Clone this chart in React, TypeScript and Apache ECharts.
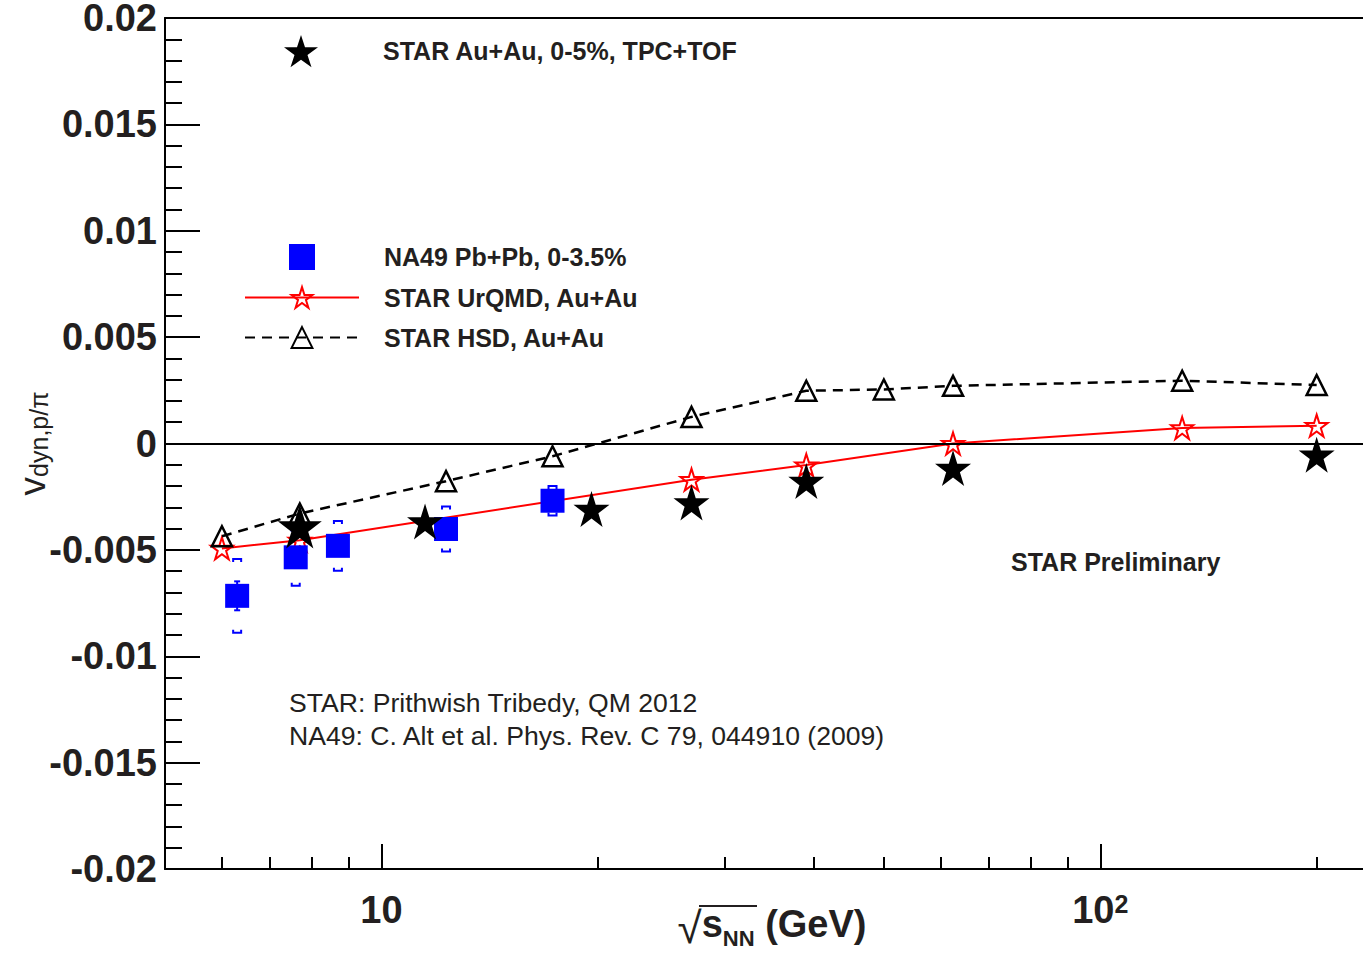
import React, { useEffect, useRef } from 'react';
import * as echarts from 'echarts';

// ---- data ----
const STAR_E = [7.7, 11.5, 19.6, 27, 39, 62.4, 200];
const STAR_V = [-0.0039, -0.00367, -0.00308, -0.00277, -0.00176, -0.00115, -0.00053];

const NA49_E = [6.3, 7.6, 8.7, 12.3, 17.3];
const NA49_V = [-0.00716, -0.00535, -0.00481, -0.00402, -0.00269];
const NA49_STAT = [0.00068, 0.0003, 0.0003, 0.0003, 0.0003];
const NA49_SYS = [0.00173, 0.00134, 0.00117, 0.00106, 0.00069];

const URQMD_E = [6.0, 7.7, 27, 39, 62.4, 130, 200];
const URQMD_V = [-0.00493, -0.00455, -0.0017, -0.00101, 0.0, 0.00073, 0.00084];

const HSD_E = [6.0, 7.7, 12.3, 17.3, 27, 39, 50, 62.4, 130, 200];
const HSD_V = [-0.00436, -0.00329, -0.00177, -0.0006, 0.00125, 0.00248, 0.00254, 0.00271, 0.00295, 0.00275];

const X_MAJOR = [10, 100];
const X_MINOR = [6, 7, 8, 9, 20, 30, 40, 50, 60, 70, 80, 90, 200];

const N_STAR = 'STAR Au+Au, 0-5%, TPC+TOF';
const N_NA49 = 'NA49 Pb+Pb, 0-3.5%';
const N_URQMD = 'STAR UrQMD, Au+Au';
const N_HSD = 'STAR HSD, Au+Au';

const FONT = '"Liberation Sans", Arial, Helvetica, sans-serif';
const TXT = '#231f20';
const STAR_PATH =
  'path://M95.11,0L117.56,69.1L190.22,69.1L131.44,111.8L153.89,180.9L95.11,138.2L36.33,180.9L58.78,111.8L0,69.1L72.66,69.1Z';
const SQUARE_PATH = 'path://M0,0L100,0L100,100L0,100Z';

const X_MIN = 5;
const X_MAX = 232;

export default function App() {
  const ref = useRef<HTMLDivElement>(null);

  useEffect(() => {
    if (!ref.current) return;
    const chart = echarts.init(ref.current, undefined, { renderer: 'svg' });

    const zip = (a: number[], b: number[]) => a.map((x, i) => [x, b[i]]);
    const errData = NA49_E.map((e, i) => [e, NA49_V[i], NA49_STAT[i], NA49_SYS[i]]);
    const legendText = { fontFamily: FONT, fontWeight: 'bold', fontSize: 25, color: TXT };

    const option: any = {
      animation: false,
      backgroundColor: '#fff',
      grid: { left: 165, right: 0, top: 18, bottom: 92, outerBoundsMode: 'none' },
      legend: [
        {
          data: [N_STAR],
          left: 279,
          top: 30,
          orient: 'vertical',
          itemWidth: 34,
          itemHeight: 34,
          symbolKeepAspect: true,
          selectedMode: false,
          textStyle: { ...legendText, padding: [0, 0, 0, 60] },
        },
        {
          data: [N_NA49, N_URQMD, N_HSD],
          left: 239,
          top: 239,
          orient: 'vertical',
          itemWidth: 114,
          itemHeight: 26,
          itemGap: 15,
          symbolKeepAspect: true,
          selectedMode: false,
          textStyle: { ...legendText, padding: [0, 0, 0, 20] },
        },
      ],
      xAxis: [
        {
          type: 'log',
          logBase: 10,
          min: X_MIN,
          max: X_MAX,
          position: 'bottom',
          axisLine: { show: true, onZero: false, lineStyle: { color: '#000', width: 2 } },
          axisTick: { show: true, inside: true, length: 12, customValues: X_MINOR, lineStyle: { color: '#000', width: 2 } },
          minorTick: { show: false },
          splitLine: { show: false },
          axisLabel: {
            show: true,
            customValues: X_MAJOR,
            margin: 22,
            formatter: (v: number) => (Math.round(v) === 100 ? '{b|10}{sup|2}' : '{b|10}'),
            rich: {
              b: { fontFamily: FONT, fontWeight: 'bold', fontSize: 38, color: TXT, lineHeight: 38, verticalAlign: 'bottom' },
              sup: { fontFamily: FONT, fontWeight: 'bold', fontSize: 25, color: TXT, lineHeight: 25, verticalAlign: 'top' },
            },
          },
          name: '{r|√}{s|s}{n|NN}{g| (GeV)}',
          nameLocation: 'middle',
          nameGap: 36,
          nameMoveOverlap: false,
          nameTextStyle: {
            rich: {
              r: { fontFamily: FONT, fontSize: 44, color: TXT, lineHeight: 44, verticalAlign: 'bottom', padding: [0, 0, 0, 16] },
              s: { fontFamily: FONT, fontWeight: 'bold', fontSize: 38, color: TXT, lineHeight: 38, verticalAlign: 'top' },
              n: { fontFamily: FONT, fontWeight: 'bold', fontSize: 22, color: TXT, lineHeight: 22, verticalAlign: 'bottom' },
              g: { fontFamily: FONT, fontWeight: 'bold', fontSize: 38, color: TXT, lineHeight: 38, verticalAlign: 'top' },
            },
          },
        },
        {
          type: 'log',
          logBase: 10,
          min: X_MIN,
          max: X_MAX,
          position: 'bottom',
          axisLine: { show: false, onZero: false },
          axisTick: { show: true, inside: true, length: 25, customValues: X_MAJOR, lineStyle: { color: '#000', width: 2 } },
          axisLabel: { show: false },
          splitLine: { show: false },
        },
        {
          type: 'value',
          min: 0,
          max: 1,
          position: 'top',
          axisLine: { show: true, onZero: false, lineStyle: { color: '#000', width: 2 } },
          axisTick: { show: false },
          axisLabel: { show: false },
          splitLine: { show: false },
        },
      ],
      yAxis: {
        type: 'value',
        min: -0.02,
        max: 0.02,
        interval: 0.005,
        axisLine: { show: true, onZero: false, lineStyle: { color: '#000', width: 2 } },
        axisTick: { show: true, inside: true, length: 35, lineStyle: { color: '#000', width: 2 } },
        minorTick: { show: true, splitNumber: 5, length: 17, lineStyle: { color: '#000', width: 2 } },
        splitLine: { show: false },
        axisLabel: {
          margin: 8,
          fontFamily: FONT,
          fontWeight: 'bold',
          fontSize: 38,
          color: TXT,
          formatter: (v: number) => (Math.abs(v) < 1e-12 ? '0' : String(parseFloat(v.toFixed(3)))),
        },
        name: '{v|v}{sub|dyn,p/π}',
        nameLocation: 'middle',
        nameRotate: 90,
        nameGap: 114,
        nameMoveOverlap: false,
        nameTextStyle: {
          rich: {
            v: { fontFamily: FONT, fontSize: 37, color: TXT, lineHeight: 37, verticalAlign: 'top' },
            sub: { fontFamily: FONT, fontSize: 25, color: TXT, lineHeight: 25, verticalAlign: 'bottom', padding: [26, 0, 0, 0] },
          },
        },
      },
      series: [
        {
          type: 'custom',
          name: 'NA49 errors',
          xAxisIndex: 0,
          z: 2,
          silent: true,
          encode: { x: 0, y: 1 },
          data: errData,
          renderItem: (params: any, api: any) => {
            const x = api.value(0);
            const v = api.value(1);
            const st = api.value(2);
            const sy = api.value(3);
            const c = api.coord([x, v]);
            const t = api.coord([x, v + st]);
            const b = api.coord([x, v - st]);
            const sT = api.coord([x, v + sy]);
            const sB = api.coord([x, v - sy]);
            const style = { stroke: '#0000ff', lineWidth: 2, fill: 'none' };
            return {
              type: 'group',
              children: [
                { type: 'line', shape: { x1: c[0], y1: t[1], x2: c[0], y2: b[1] }, style },
                { type: 'line', shape: { x1: c[0] - 3, y1: t[1], x2: c[0] + 3, y2: t[1] }, style },
                { type: 'line', shape: { x1: c[0] - 3, y1: b[1], x2: c[0] + 3, y2: b[1] }, style },
                {
                  type: 'polyline',
                  shape: { points: [[c[0] - 4, sT[1] + 3], [c[0] - 4, sT[1]], [c[0] + 4, sT[1]], [c[0] + 4, sT[1] + 3]] },
                  style,
                },
                {
                  type: 'polyline',
                  shape: { points: [[c[0] - 4, sB[1] - 3], [c[0] - 4, sB[1]], [c[0] + 4, sB[1]], [c[0] + 4, sB[1] - 3]] },
                  style,
                },
              ],
            };
          },
        },
        {
          type: 'line',
          name: N_URQMD,
          xAxisIndex: 0,
          z: 3,
          data: zip(URQMD_E, URQMD_V),
          symbol: STAR_PATH,
          symbolSize: 22,
          showAllSymbol: true,
          lineStyle: { color: '#ff0000', width: 2 },
          itemStyle: { color: 'rgba(255,255,255,0)', borderColor: '#ff0000', borderWidth: 2, opacity: 1 },
          markLine: {
            silent: true,
            symbol: ['none', 'none'],
            label: { show: false },
            lineStyle: { color: '#000', width: 2, type: 'solid' },
            data: [{ yAxis: 0 }],
          },
        },
        {
          type: 'scatter',
          name: N_NA49,
          xAxisIndex: 0,
          z: 4,
          data: zip(NA49_E, NA49_V),
          symbol: SQUARE_PATH,
          symbolSize: 24,
          itemStyle: { color: '#0000ff', opacity: 1 },
        },
        {
          type: 'scatter',
          name: N_STAR,
          xAxisIndex: 0,
          z: 5,
          data: zip(STAR_E, STAR_V),
          symbol: STAR_PATH,
          symbolSize: (_v: any, p: any) => (p.dataIndex === 0 ? 44 : 36),
          itemStyle: { color: '#000', opacity: 1 },
        },
        {
          type: 'line',
          name: N_HSD,
          xAxisIndex: 0,
          z: 6,
          data: zip(HSD_E, HSD_V),
          symbol: 'triangle',
          symbolSize: 20,
          showAllSymbol: true,
          lineStyle: { color: '#000', width: 2.5, type: [10, 7] },
          itemStyle: { color: 'rgba(255,255,255,0)', borderColor: '#000', borderWidth: 2.5, opacity: 1 },
        },
      ],
      graphic: [
        {
          type: 'line',
          shape: { x1: 699, y1: 906, x2: 757, y2: 906 },
          style: { stroke: TXT, lineWidth: 2 },
          silent: true,
        },
        {
          type: 'text',
          x: 1011,
          y: 562,
          style: { text: 'STAR Preliminary', font: `bold 25px ${FONT}`, fill: TXT, align: 'left', verticalAlign: 'middle' },
        },
        {
          type: 'text',
          x: 289,
          y: 703,
          style: { text: 'STAR: Prithwish Tribedy, QM 2012', font: `26.6px ${FONT}`, fill: TXT, align: 'left', verticalAlign: 'middle' },
        },
        {
          type: 'text',
          x: 289,
          y: 736,
          style: {
            text: 'NA49: C. Alt et al. Phys. Rev. C 79, 044910 (2009)',
            font: `26.6px ${FONT}`,
            fill: TXT,
            align: 'left',
            verticalAlign: 'middle',
          },
        },
      ],
    };

    chart.setOption(option);
    return () => chart.dispose();
  }, []);

  return <div ref={ref} style={{ position: 'absolute', left: 0, top: 0, width: 1363, height: 961 }} />;
}
